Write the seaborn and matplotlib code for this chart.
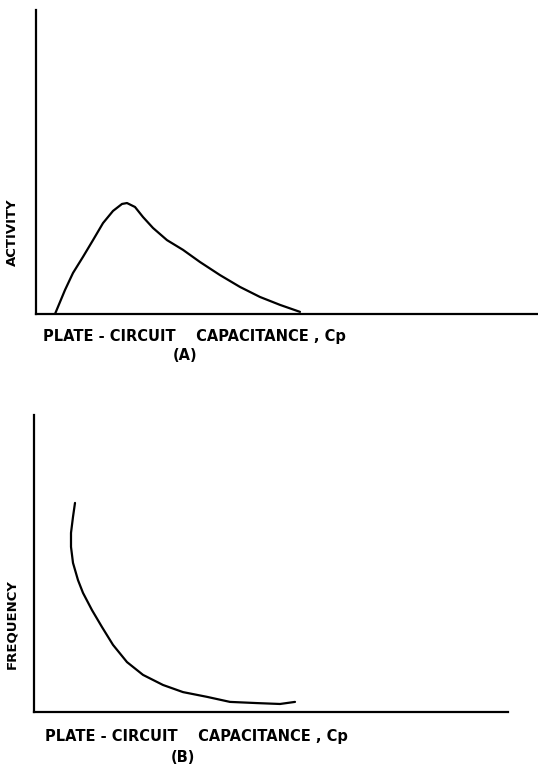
import matplotlib
matplotlib.use("Agg")
import matplotlib.pyplot as plt
import seaborn as sns
import pandas as pd

# Curve (A): oscillator activity vs plate-circuit capacitance (arbitrary units)
cap_a = [0.38, 0.58, 0.74, 0.94, 1.14, 1.34, 1.54, 1.72, 1.82, 1.98, 2.14,
         2.34, 2.62, 2.94, 3.28, 3.68, 4.08, 4.48, 4.88, 5.28]
activity = [0.00, 0.79, 1.35, 1.88, 2.43, 2.99, 3.39, 3.62, 3.65, 3.52, 3.19,
            2.83, 2.43, 2.11, 1.71, 1.28, 0.89, 0.56, 0.30, 0.07]

# Curve (B): frequency vs plate-circuit capacitance (arbitrary units)
cap_b = [0.82, 0.78, 0.74, 0.74, 0.78, 0.88, 0.98, 1.16, 1.36, 1.58, 1.86,
         2.18, 2.58, 2.98, 3.46, 3.92, 4.46, 4.92, 5.22]
frequency = [7.04, 6.57, 6.03, 5.56, 5.02, 4.44, 4.01, 3.43, 2.86, 2.26, 1.68,
             1.25, 0.91, 0.67, 0.51, 0.34, 0.30, 0.27, 0.34]

x_label = "PLATE - CIRCUIT    CAPACITANCE , Cp"

sns.set_theme(style="white")
plt.rcParams["font.family"] = ["DejaVu Sans"]

fig = plt.figure(figsize=(5.38, 7.66), dpi=100)

ax_a = fig.add_axes([36 / 538, 1 - 314 / 766, 1 - 36 / 538, 304 / 766])
ax_b = fig.add_axes([34 / 538, 1 - 712 / 766, 474 / 538, 297 / 766])

df_a = pd.DataFrame({"cap": cap_a, "val": activity})
df_b = pd.DataFrame({"cap": cap_b, "val": frequency})

line_kw = dict(sort=False, estimator=None, color="black", linewidth=1.6)
sns.lineplot(data=df_a, x="cap", y="val", ax=ax_a, **line_kw)
sns.lineplot(data=df_b, x="cap", y="val", ax=ax_b, **line_kw)
for ax in (ax_a, ax_b):
    for ln in ax.get_lines():
        ln.set_solid_joinstyle("round")
        ln.set_solid_capstyle("round")

ax_a.set_xlim(0, 10.04)
ax_a.set_ylim(0, 10)
ax_b.set_xlim(0, 9.48)
ax_b.set_ylim(0, 10)

for ax in (ax_a, ax_b):
    ax.set_xticks([])
    ax.set_yticks([])
    ax.set_xlabel("")
    ax.set_ylabel("")
    ax.patch.set_alpha(0)
    for side in ("top", "right"):
        ax.spines[side].set_visible(False)
    for side in ("left", "bottom"):
        ax.spines[side].set_color("black")
        ax.spines[side].set_linewidth(1.6)

txt = dict(fontweight="bold", color="black", fontsize=10.5)
fig.text(12 / 538, 1 - 232 / 766, "ACTIVITY", rotation=90,
         ha="center", va="center", fontweight="bold", color="black", fontsize=9.5)
fig.text(12 / 538, 1 - 624 / 766, "FREQUENCY", rotation=90,
         ha="center", va="center", fontweight="bold", color="black", fontsize=9.5)
fig.text(43 / 538, 1 - 336 / 766, x_label, ha="left", va="center", **txt)
fig.text(185 / 538, 1 - 356 / 766, "(A)", ha="center", va="center", **txt)
fig.text(45 / 538, 1 - 737 / 766, x_label, ha="left", va="center", **txt)
fig.text(183 / 538, 1 - 757 / 766, "(B)", ha="center", va="center", **txt)

fig.savefig("out.png", dpi=100, facecolor="white")
